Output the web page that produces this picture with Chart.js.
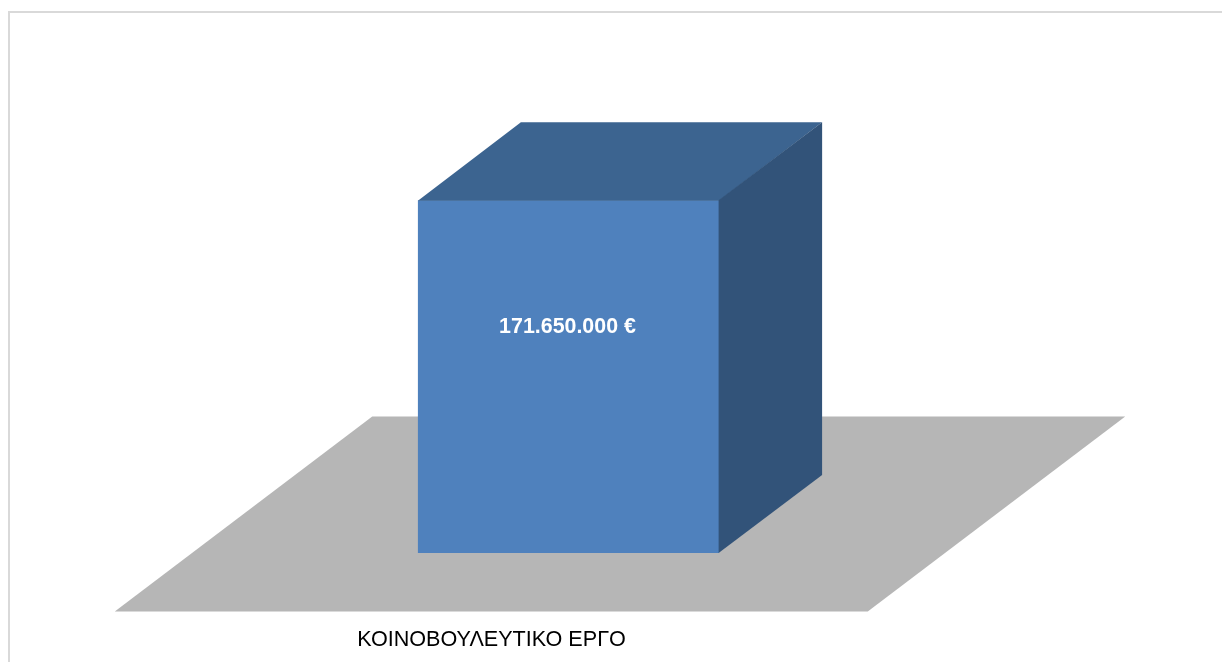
<!DOCTYPE html>
<html>
<head>
<meta charset="utf-8">
<script src="https://cdn.jsdelivr.net/npm/chart.js@4.4.1/dist/chart.umd.min.js"></script>
<style>
    html, body { margin: 0; padding: 0; background: #ffffff; overflow: hidden; }
    .frame {
        position: absolute; left: 8px; top: 11px;
        width: 1300px; height: 700px;
        border: 2px solid #d9d9d9;
    }
    #budgetChart { position: absolute; left: 0; top: 0; }
</style>
</head>
<body>
<div class="frame"></div>
<canvas id="budgetChart" width="1222" height="662"></canvas>
<script>
const categories = ['ΚΟΙΝΟΒΟΥΛΕΥΤΙΚΟ ΕΡΓΟ'];
const amounts = [171650000];

/* 3D look */
const frontColor = '#4F81BD';
const topColor = '#3C6490';
const sideColor = '#325379';
const floorColor = '#B6B6B6';
const depthX = 103;
const depthY = -78;
const floorMargin = 0.75; // floor reaches 0.75 bar depth in front and behind

function formatEuro(v) {
    return String(v).replace(/\B(?=(\d{3})+(?!\d))/g, '.') + ' €';
}

const cube3d = {
    id: 'cube3d',
    beforeDatasetsDraw(chart) {
        const ctx = chart.ctx;
        const area = chart.chartArea;
        const base = chart.scales.y.getPixelForValue(0);
        const fx = -depthX * floorMargin, fy = -depthY * floorMargin;
        const bx = depthX * (1 + floorMargin), by = depthY * (1 + floorMargin);
        ctx.save();
        ctx.fillStyle = floorColor;
        ctx.beginPath();
        ctx.moveTo(area.left + fx, base + fy);
        ctx.lineTo(area.right + fx, base + fy);
        ctx.lineTo(area.right + bx, base + by);
        ctx.lineTo(area.left + bx, base + by);
        ctx.closePath();
        ctx.fill();
        ctx.restore();
    },
    afterDatasetsDraw(chart) {
        const ctx = chart.ctx;
        chart.getDatasetMeta(0).data.forEach((bar, i) => {
            const p = bar.getProps(['x', 'y', 'base', 'width'], true);
            const l = p.x - p.width / 2, r = p.x + p.width / 2;
            ctx.save();
            // top face
            ctx.fillStyle = topColor;
            ctx.beginPath();
            ctx.moveTo(l, p.y + 0.5);
            ctx.lineTo(r, p.y + 0.5);
            ctx.lineTo(r + depthX, p.y + depthY);
            ctx.lineTo(l + depthX, p.y + depthY);
            ctx.closePath();
            ctx.fill();
            // side face
            ctx.fillStyle = sideColor;
            ctx.beginPath();
            ctx.moveTo(r - 0.5, p.y);
            ctx.lineTo(r + depthX, p.y + depthY);
            ctx.lineTo(r + depthX, p.base + depthY);
            ctx.lineTo(r - 0.5, p.base);
            ctx.closePath();
            ctx.fill();
            // value label
            ctx.fillStyle = '#ffffff';
            ctx.font = 'bold 21.4px "Liberation Sans", Arial, sans-serif';
            ctx.textAlign = 'center';
            ctx.textBaseline = 'middle';
            ctx.fillText(formatEuro(amounts[i]), p.x - 1, p.y + (p.base - p.y) * 0.36);
            ctx.restore();
        });
    }
};

const ctx = document.getElementById('budgetChart').getContext('2d');

new Chart(ctx, {
    type: 'bar',
    data: {
        labels: categories,
        datasets: [{
            data: amounts,
            backgroundColor: frontColor,
            borderWidth: 0,
            barPercentage: 0.4,
            categoryPercentage: 1
        }]
    },
    options: {
        responsive: false,
        animation: false,
        layout: {
            padding: { left: 192, right: 277, top: 142, bottom: 0 }
        },
        plugins: {
            legend: { display: false },
            tooltip: { enabled: false }
        },
        scales: {
            x: {
                grid: { display: false, drawTicks: false },
                border: { display: false },
                afterFit(scale) { scale.height = 109; },
                ticks: {
                    color: '#000000',
                    font: { family: '"Liberation Sans", Arial, sans-serif', size: 21.6 },
                    padding: 74,
                    labelOffset: -77
                }
            },
            y: {
                display: false,
                min: 0,
                max: 200000000
            }
        }
    },
    plugins: [cube3d]
});
</script>
</body>
</html>
